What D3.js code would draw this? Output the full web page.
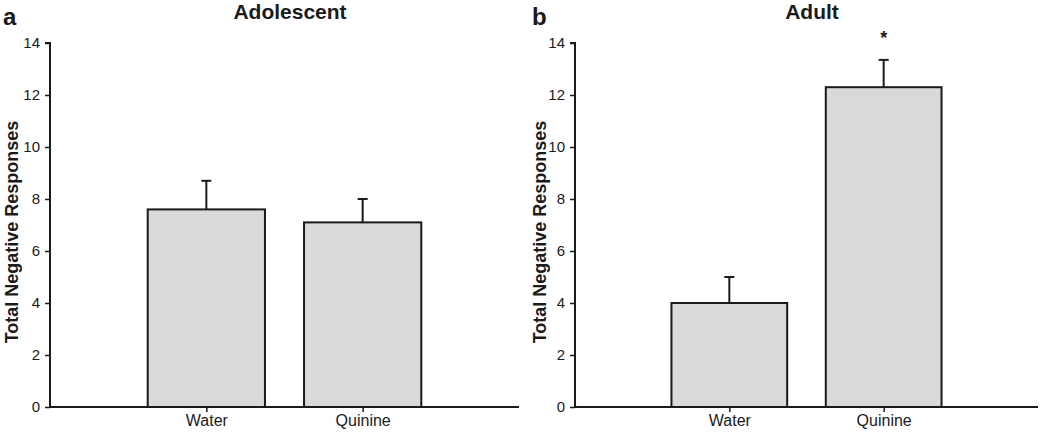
<!DOCTYPE html>
<html>
<head>
<meta charset="utf-8">
<script src="https://cdn.jsdelivr.net/npm/d3@7"></script>
<style>
  html, body { margin: 0; padding: 0; background: #fff; }
  svg { display: block; font-family: "Liberation Sans", Arial, Helvetica, sans-serif; }
</style>
</head>
<body>
<svg id="chart" width="1050" height="434"></svg>
<script>
// ---- data ----
const categories = ["Water", "Quinine"];
const panelTitles = ["Adolescent", "Adult"];
const panelLetters = ["a", "b"];
const adolescentMeans = [7.6, 7.1];
const adolescentErrors = [1.1, 0.9];
const adultMeans = [4.0, 12.3];
const adultErrors = [1.0, 1.05];
const significance = [["", ""], ["", "*"]];
const yTicks = [0, 2, 4, 6, 8, 10, 12, 14];
const yLabel = "Total Negative Responses";

const svg = d3.select("#chart");
const ink = "#1a1a1a";

const panels = [
  { means: adolescentMeans, errs: adolescentErrors, x0: 50, x1: 519, letterX: 3, labelX: 12, titleX: 290 },
  { means: adultMeans, errs: adultErrors, x0: 575, x1: 1038, letterX: 532, labelX: 540, titleX: 812 }
];
const yTop = 43, yBot = 407;

panels.forEach((p, pi) => {
  const g = svg.append("g");
  const y = d3.scaleLinear().domain([0, 14]).range([yBot, yTop]);
  const x = d3.scalePoint().domain(categories).range([p.x0, p.x1]).padding(1);
  const bw = x.step() * 0.75;

  // bars
  g.selectAll("rect.bar").data(categories).join("rect")
    .attr("class", "bar")
    .attr("x", d => x(d) - bw / 2)
    .attr("width", bw)
    .attr("y", (d, i) => y(p.means[i]))
    .attr("height", (d, i) => y(0) - y(p.means[i]))
    .attr("fill", "#d9d9d9")
    .attr("stroke", ink)
    .attr("stroke-width", 2);

  // error bars (upper only)
  categories.forEach((c, i) => {
    const top = p.means[i] + p.errs[i];
    g.append("line")
      .attr("x1", x(c)).attr("x2", x(c))
      .attr("y1", y(p.means[i])).attr("y2", y(top))
      .attr("stroke", ink).attr("stroke-width", 2);
    g.append("line")
      .attr("x1", x(c) - 5).attr("x2", x(c) + 5)
      .attr("y1", y(top)).attr("y2", y(top))
      .attr("stroke", ink).attr("stroke-width", 2);
    if (significance[pi][i]) {
      g.append("text")
        .attr("x", x(c)).attr("y", y(top) - 16)
        .attr("text-anchor", "middle")
        .attr("font-size", 18).attr("font-weight", "bold").attr("fill", ink)
        .text(significance[pi][i]);
    }
  });

  // y axis
  const ya = g.append("g").attr("transform", `translate(${p.x0},0)`)
    .call(d3.axisLeft(y).tickValues(yTicks).tickSize(5).tickPadding(5).tickFormat(d3.format("d")));
  ya.select(".domain").attr("stroke", ink).attr("stroke-width", 2).attr("d", `M-5,${yTop}H0V${yBot}`);
  ya.selectAll(".tick line").attr("stroke", ink).attr("stroke-width", 1.5);
  ya.selectAll(".tick text").attr("font-size", 15).attr("fill", ink)
    .attr("font-family", "Liberation Sans, Arial, sans-serif");

  // x axis
  const xa = g.append("g").attr("transform", `translate(0,${yBot})`)
    .call(d3.axisBottom(x).tickSize(5).tickPadding(3));
  xa.select(".domain").attr("stroke", ink).attr("stroke-width", 2).attr("d", `M${p.x0},0H${p.x1}`);
  xa.selectAll(".tick line").attr("stroke", ink).attr("stroke-width", 1.5);
  xa.selectAll(".tick text").attr("font-size", 16).attr("fill", ink)
    .attr("font-family", "Liberation Sans, Arial, sans-serif");

  // title
  g.append("text")
    .attr("x", p.titleX).attr("y", 19)
    .attr("text-anchor", "middle")
    .attr("font-size", 21).attr("font-weight", "bold").attr("fill", ink)
    .text(panelTitles[pi]);

  // panel letter
  g.append("text")
    .attr("x", p.letterX).attr("y", 25)
    .attr("font-size", 24).attr("font-weight", "bold").attr("fill", ink)
    .text(panelLetters[pi]);

  // y label
  g.append("text")
    .attr("transform", `translate(${p.labelX + 6},232) rotate(-90)`)
    .attr("text-anchor", "middle")
    .attr("font-size", 18).attr("font-weight", "bold").attr("fill", ink)
    .text(yLabel);
});
</script>
</body>
</html>
